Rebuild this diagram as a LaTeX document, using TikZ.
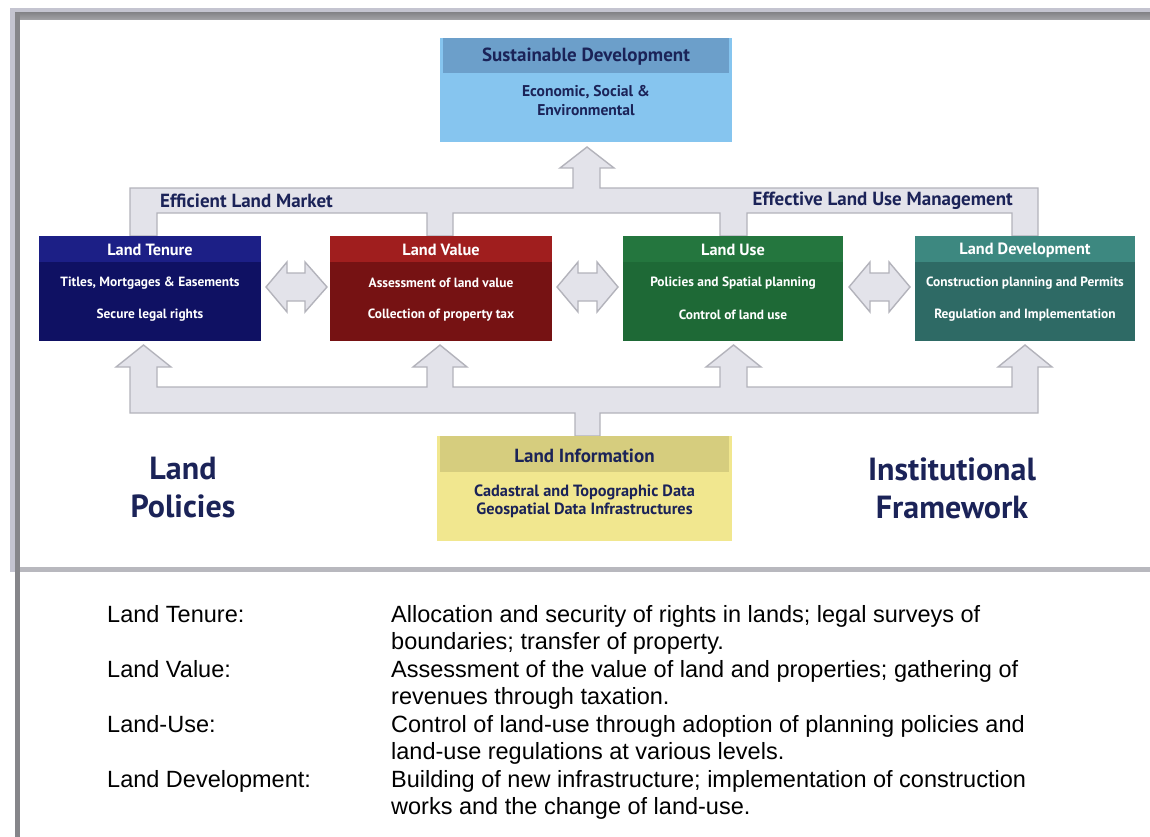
\documentclass[tikz,border=0pt]{standalone}
\usepackage{fontspec}
\newfontfamily\dfont{PT Sans}
\newfontfamily\afont{Liberation Sans}
\usetikzlibrary{calc}
\definecolor{framelight}{HTML}{C4C4D0}
\definecolor{framedark}{HTML}{86868A}
\definecolor{framemid}{HTML}{A4A4A8}
\definecolor{framebottom}{HTML}{B8B8BE}
\definecolor{arrowfill}{HTML}{E3E3EA}
\definecolor{arrowedge}{HTML}{B3B3BB}
\definecolor{navytext}{HTML}{1B2358}
\definecolor{sdhead}{HTML}{6C9FCA}
\definecolor{sdbody}{HTML}{86C5EF}
\definecolor{lthead}{HTML}{1C1F86}
\definecolor{ltbody}{HTML}{0F1163}
\definecolor{lvhead}{HTML}{A01E1E}
\definecolor{lvbody}{HTML}{761213}
\definecolor{luhead}{HTML}{24763E}
\definecolor{lubody}{HTML}{1E6936}
\definecolor{ldhead}{HTML}{3D8880}
\definecolor{ldbody}{HTML}{2E6A65}
\definecolor{lihead}{HTML}{D6CD7E}
\definecolor{libody}{HTML}{F1E78F}
\tikzset{
  conn/.style={fill=arrowfill, draw=arrowedge, line width=1.4pt, line join=miter},
  boxbody/.style={draw=none, inner sep=0pt, minimum width=#1, minimum height=105pt},
  headtxt/.style={font=\dfont\bfseries\fontsize{16.3}{19}\selectfont, text=white, inner sep=0pt},
  bodytxt/.style={font=\dfont\bfseries\fontsize{13.4}{16}\selectfont, text=white, inner sep=0pt},
  navyhead/.style={font=\dfont\bfseries\fontsize{19}{22}\selectfont, text=navytext, inner sep=0pt},
  navybody/.style={font=\dfont\bfseries\fontsize{15.6}{18}\selectfont, text=navytext, inner sep=0pt},
  barlabel/.style={font=\dfont\bfseries\fontsize{19}{22}\selectfont, text=navytext, inner sep=0pt},
  bigtxt/.style={font=\dfont\bfseries\fontsize{32}{38}\selectfont, text=navytext, inner sep=0pt, align=center},
  legtxt/.style={font=\afont\fontsize{23.5}{27.5}\selectfont, text=black, inner sep=0pt, anchor=base west}
}
\begin{document}
\begin{tikzpicture}[x=1pt,y=-1pt]
\useasboundingbox (0,0) rectangle (1150,837);
\fill[white] (0,0) rectangle (1150,837);
% frame
\fill[framelight] (10,8) rectangle (1150,13);
\fill[framelight] (10,8) rectangle (15,572);
\shade[top color=framedark, bottom color=framemid] (15,13) rectangle (1150,20);
\fill[framedark] (15,13) rectangle (20,837);
\fill[framebottom] (20,567) rectangle (1150,572);

% top manifold
\draw[conn] (130,236) -- (130,188) -- (573,188) -- (573,168) -- (560,168) -- (587,147)
  -- (614,168) -- (600,168) -- (600,188) -- (1038,188) -- (1038,236) -- (1012,236)
  -- (1012,213) -- (747,213) -- (747,236) -- (720,236) -- (720,213) -- (453,213)
  -- (453,236) -- (427,236) -- (427,213) -- (157,213) -- (157,236) -- cycle;

% bottom manifold
\draw[conn] (130,413) -- (130,367) -- (116,367) -- (143.5,345) -- (171,367) -- (157,367)
  -- (157,387) -- (427,387) -- (427,367) -- (413,367) -- (440,345) -- (467,367)
  -- (453,367) -- (453,387) -- (720,387) -- (720,367) -- (706,367) -- (733.5,345)
  -- (761,367) -- (747,367) -- (747,387) -- (1012,387) -- (1012,367) -- (998,367)
  -- (1025,345) -- (1052,367) -- (1038,367) -- (1038,413) -- (600,413) -- (600,436)
  -- (575,436) -- (575,413) -- cycle;

% double arrows
\draw[conn] (266,287) -- (287,262) -- (287,273) -- (305,273) -- (305,262) -- (327,287)
  -- (305,312) -- (305,301) -- (287,301) -- (287,312) -- cycle;
\draw[conn] (557,287) -- (578,262) -- (578,273) -- (597,273) -- (597,262) -- (618,287)
  -- (597,312) -- (597,301) -- (578,301) -- (578,312) -- cycle;
\draw[conn] (849,287) -- (870,262) -- (870,273) -- (889,273) -- (889,262) -- (910,287)
  -- (889,312) -- (889,301) -- (870,301) -- (870,312) -- cycle;

\node[barlabel, anchor=west] (elm) at (160,201) {Efficient Land Market};
\node[barlabel, anchor=east] (elum) at (1013,201) {Effective Land Use Management};

% Sustainable development
\node[fill=sdbody, inner sep=0pt, minimum width=292pt, minimum height=104pt] (sd) at (586,90) {};
\fill[sdhead] (443,38) rectangle (729,73);
\node[navyhead] (sdh) at (586,57) {Sustainable Development};
\node[navybody] (sdb1) at (586,92) {Economic, Social \&};
\node[navybody] (sdb2) at (586,110) {Environmental};

% Land tenure
\node[boxbody=222pt, fill=ltbody] (lt) at (150,288.5) {};
\fill[lthead] (39,236) rectangle (261,262);
\node[headtxt] (lth) at (150,250) {Land Tenure};
\node[bodytxt] (lt1) at (150,283) {Titles, Mortgages \& Easements};
\node[bodytxt] (lt2) at (150,315) {Secure legal rights};

% Land value
\node[boxbody=222pt, fill=lvbody] (lv) at (441,288.5) {};
\fill[lvhead] (330,236) rectangle (552,262);
\node[headtxt] (lvh) at (441,250) {Land Value};
\node[bodytxt] (lv1) at (441,283) {Assessment of land value};
\node[bodytxt] (lv2) at (441,315) {Collection of property tax};

% Land use
\node[boxbody=220pt, fill=lubody] (lu) at (733,288.5) {};
\fill[luhead] (623,236) rectangle (843,262);
\node[headtxt] (luh) at (733,250) {Land Use};
\node[bodytxt] (lu1) at (733,283) {Policies and Spatial planning};
\node[bodytxt] (lu2) at (733,315) {Control of land use};

% Land development
\node[boxbody=220pt, fill=ldbody] (ld) at (1025,288.5) {};
\fill[ldhead] (915,236) rectangle (1135,262);
\node[headtxt] (ldh) at (1025,250) {Land Development};
\node[bodytxt] (ld1) at (1025,283) {Construction planning and Permits};
\node[bodytxt] (ld2) at (1025,315) {Regulation and Implementation};

% Land information
\node[fill=libody, inner sep=0pt, minimum width=295pt, minimum height=105pt] (li) at (584.5,488.5) {};
\fill[lihead] (440,436) rectangle (729,472);
\node[navyhead] (lih) at (584.5,456) {Land Information};
\node[navybody, font=\dfont\bfseries\fontsize{16.3}{19}\selectfont] (li1) at (584.5,492) {Cadastral and Topographic Data};
\node[navybody, font=\dfont\bfseries\fontsize{16.3}{19}\selectfont] (li2) at (584.5,510) {Geospatial Data Infrastructures};

\node[bigtxt] (lp) at (183,488) {Land\\Policies};
\node[bigtxt] (inf) at (952,488) {Institutional\\Framework};

% legend
\node[legtxt] (k1) at (107,622) {Land Tenure:};
\node[legtxt] (v1a) at (391,622) {Allocation and security of rights in lands; legal surveys of};
\node[legtxt] (v1b) at (391,649.5) {boundaries; transfer of property.};
\node[legtxt] (k2) at (107,677) {Land Value:};
\node[legtxt] (v2a) at (391,677) {Assessment of the value of land and properties; gathering of};
\node[legtxt] (v2b) at (391,704.5) {revenues through taxation.};
\node[legtxt] (k3) at (107,732) {Land-Use:};
\node[legtxt] (v3a) at (391,732) {Control of land-use through adoption of planning policies and};
\node[legtxt] (v3b) at (391,759.5) {land-use regulations at various levels.};
\node[legtxt] (k4) at (107,787) {Land Development:};
\node[legtxt] (v4a) at (391,787) {Building of new infrastructure; implementation of construction};
\node[legtxt] (v4b) at (391,814.5) {works and the change of land-use.};
\end{tikzpicture}
\end{document}
